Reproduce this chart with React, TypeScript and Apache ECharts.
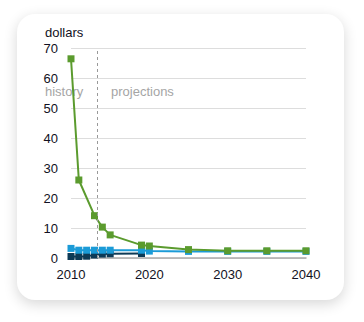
import React, { useEffect, useRef } from "react";
import * as echarts from "echarts";

const greenYears = [2010, 2011, 2013, 2014, 2015, 2019, 2020, 2025, 2030, 2035, 2040];
const greenValues = [66.4, 26, 14.1, 10.3, 7.7, 4.3, 4.0, 2.8, 2.4, 2.4, 2.4];
const blueYears = [2010, 2011, 2012, 2013, 2014, 2015, 2019, 2020, 2025, 2030, 2035, 2040];
const blueValues = [3.2, 2.6, 2.6, 2.6, 2.6, 2.6, 2.6, 2.3, 2.2, 2.2, 2.2, 2.2];
const darkYears = [2010, 2011, 2012, 2013, 2014, 2015, 2019];
const darkValues = [0.5, 0.5, 0.6, 1.0, 1.3, 1.4, 1.5];
const historyEnd = 2013.4;

const pairs = (xs: number[], ys: number[]) => xs.map((x, i) => [x, ys[i]]);

export default function App() {
  const ref = useRef<HTMLDivElement>(null);
  useEffect(() => {
    document.body.style.margin = "0";
    const chart = echarts.init(ref.current!, null, { renderer: "svg" });
    const font = "Arial, 'Liberation Sans', sans-serif";
    const mk = (name: string, xs: number[], ys: number[], color: string, z: number, extra: any = {}) => ({
      name,
      type: "line",
      data: pairs(xs, ys),
      symbol: "rect",
      symbolSize: 7,
      showSymbol: true,
      lineStyle: { color, width: 2 },
      itemStyle: { color },
      z,
      ...extra,
    });
    chart.setOption({
      animation: false,
      grid: { left: 71, right: 58, top: 48, bottom: 64 },
      xAxis: {
        type: "value",
        min: 2010,
        max: 2040,
        interval: 10,
        axisLine: { show: true, lineStyle: { color: "#aaaaaa", width: 1.5 } },
        axisTick: { show: false },
        splitLine: { show: false },
        axisLabel: { color: "#111122", fontSize: 13, fontFamily: font, margin: 10, formatter: (v: number) => String(v) },
      },
      yAxis: {
        type: "value",
        min: 0,
        max: 70,
        interval: 10,
        axisLine: { show: false },
        axisTick: { show: false },
        splitLine: { lineStyle: { color: "#dddddd", width: 1 } },
        axisLabel: { color: "#111122", fontSize: 13, fontFamily: font, margin: 13 },
      },
      graphic: [
        { type: "text", left: 45, top: 26, style: { text: "dollars", fill: "#111122", font: `13px ${font}` } },
        { type: "text", left: 45, top: 85, style: { text: "history", fill: "#a5a5a5", font: `13px ${font}` } },
        { type: "text", left: 111, top: 85, style: { text: "projections", fill: "#a5a5a5", font: `13px ${font}` } },
      ],
      series: [
        mk("dark", darkYears, darkValues, "#0d3a56", 2),
        mk("blue", blueYears, blueValues, "#1b9bd7", 3),
        mk("green", greenYears, greenValues, "#5b9b2e", 4, {
          markLine: {
            silent: true,
            symbol: "none",
            label: { show: false },
            lineStyle: { color: "#999999", type: [3, 3], width: 1 },
            data: [{ xAxis: historyEnd }],
          },
        }),
      ],
    });
    return () => chart.dispose();
  }, []);
  return (
    <div style={{ position: "fixed", left: 0, top: 0, width: 364, height: 322, background: "#ffffff" }}>
      <div
        style={{
          position: "absolute",
          left: 17,
          top: 14,
          width: 327,
          height: 286,
          borderRadius: 18,
          background: "#ffffff",
          boxShadow: "0 4px 14px rgba(0,0,0,0.16)",
        }}
      />
      <div ref={ref} style={{ position: "absolute", left: 0, top: 0, width: 364, height: 322 }} />
    </div>
  );
}
